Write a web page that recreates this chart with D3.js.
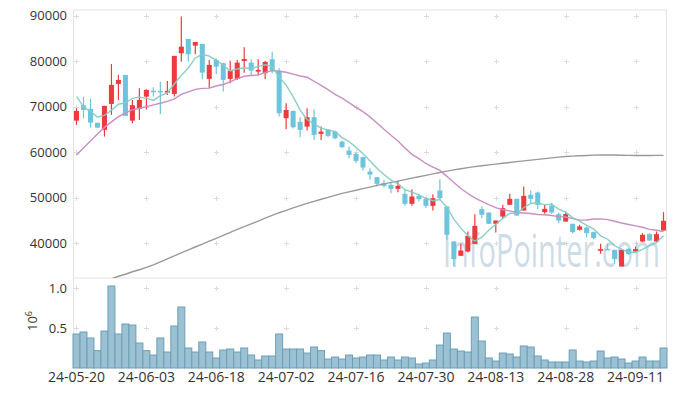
<!DOCTYPE html>
<html><head><meta charset="utf-8">
<script src="https://cdn.jsdelivr.net/npm/d3@7"></script>
<style>body{margin:0;background:#fff}svg{display:block;font-family:"Open Sans",sans-serif}</style>
</head><body><svg id="c" width="677" height="396"></svg>
<script>
const dates = ["24-05-20","24-05-21","24-05-22","24-05-23","24-05-24","24-05-27","24-05-28","24-05-29","24-05-30","24-05-31",
"24-06-03","24-06-04","24-06-05","24-06-07","24-06-10","24-06-11","24-06-12","24-06-13","24-06-14","24-06-17",
"24-06-18","24-06-19","24-06-20","24-06-21","24-06-24","24-06-25","24-06-26","24-06-27","24-06-28","24-07-01",
"24-07-02","24-07-03","24-07-04","24-07-05","24-07-08","24-07-09","24-07-10","24-07-11","24-07-12","24-07-15",
"24-07-16","24-07-17","24-07-18","24-07-19","24-07-22","24-07-23","24-07-24","24-07-25","24-07-26","24-07-29",
"24-07-30","24-07-31","24-08-01","24-08-02","24-08-05","24-08-06","24-08-07","24-08-08","24-08-09","24-08-12",
"24-08-13","24-08-14","24-08-16","24-08-19","24-08-20","24-08-21","24-08-22","24-08-23","24-08-26","24-08-27",
"24-08-28","24-08-29","24-08-30","24-09-02","24-09-03","24-09-04","24-09-05","24-09-06","24-09-09","24-09-10",
"24-09-11","24-09-12","24-09-13","24-09-19","24-09-20"];
const open = [66920,70300,69490,66420,64880,70590,74990,76970,66920,69490,
72200,73500,73450,73080,72790,81740,84880,83410,83780,76090,
80260,79540,76090,76090,80040,79670,77690,77340,80420,77910,
67450,69050,66640,65600,67670,64000,64880,64500,62300,60330,
59600,58880,55710,54480,53160,52790,51910,50810,48610,50370,
49640,48170,51530,48020,40330,37180,38130,39820,47450,46700,
44220,45820,48390,49710,47140,50590,51100,46790,48240,46350,
44720,44220,42900,43400,42390,38280,38700,38500,34830,38720,
38130,40330,41950,40330,42740];
const high = [69650,72200,71690,66500,70200,79380,76970,76970,71470,74040,
73820,74260,75490,75650,81200,89800,84900,84220,83800,80260,
80640,79670,80110,80260,83050,80420,80420,80040,82090,78440,
70750,69100,67670,69650,69430,65600,65000,64700,62500,61210,
59890,59010,56460,54500,53890,53290,53670,51840,51840,50810,
50080,50740,54040,48100,40400,39820,42520,46350,48020,46700,
44950,48390,50810,49750,52410,51530,51320,48390,48770,46700,
46920,44220,43990,43630,42520,39820,39820,38500,38500,38870,
39220,42170,42170,42520,46790];
const low = [65980,67450,65380,65300,63400,68180,71470,67900,66350,67080,
69430,72200,68390,72570,72200,79890,79890,81520,76020,74040,
77190,73300,75140,75870,77470,76970,76970,76020,77340,67800,
65030,65200,63270,64720,62680,62680,63300,62800,60900,58660,
57560,55870,53890,52410,52280,50960,51180,48170,48170,49120,
47670,47140,49640,40700,34830,37180,37910,39820,45470,44200,
42300,45470,48390,46000,47140,48770,47450,46410,46410,44370,
44720,42170,42740,41290,40850,37620,38480,35420,34830,37400,
38000,40190,40480,40190,42740];
const close = [69050,69270,66480,65380,70150,74770,75870,67960,70310,71470,
73670,73400,73160,73450,81140,83190,81520,84220,77470,79160,
78790,75870,77910,79670,80480,77910,78070,79820,77910,68550,
69270,65470,64880,67670,63780,64500,63560,63050,61080,59380,
58060,56590,55050,53010,52570,51910,52570,48610,50220,49640,
48170,49860,49860,41800,36460,38350,41580,43770,46200,44220,
44940,47670,49710,46040,50370,49710,48390,47510,46700,44940,
46350,42390,43630,42170,41070,38660,38600,36460,38500,37560,
38660,41800,40550,41950,44880];
const volume = [425000,450000,375000,217000,462000,1025000,425000,550000,537000,312000,
217000,162000,375000,200000,525000,762000,250000,200000,325000,200000,
125000,225000,237000,200000,250000,162000,100000,150000,150000,425000,
237000,237000,237000,187000,262000,217000,112000,137000,112000,162000,
125000,137000,162000,162000,100000,137000,100000,137000,125000,50000,
62000,100000,287000,437000,237000,212000,200000,637000,337000,125000,
87000,187000,175000,137000,275000,262000,150000,100000,75000,75000,
75000,225000,87000,75000,87000,212000,125000,137000,112000,62000,
87000,137000,87000,87000,250000];
const ma5 = [72200,70000,68900,67700,68070,69210,70530,70830,71810,72080,
71860,71360,72400,73030,74960,76870,78490,80700,81510,81110,
80230,79100,77840,78280,78540,78370,78810,79190,78840,76450,
74720,72200,69220,67170,66210,65260,64880,64510,63190,62310,
61030,59630,58030,56420,55060,53830,53020,51730,51180,50590,
49840,49300,49550,47870,45230,43270,41610,40390,41270,42820,
44140,45360,46550,46520,47750,48700,48840,48400,48540,47450,
46780,45580,44800,43900,43120,41580,40830,39390,38660,37960,
37960,38600,39410,40100,41570];
const ma20 = [59380,60920,62460,64000,65430,66640,67800,68610,69270,69650,
70000,70370,70750,71140,71690,72680,73230,73780,74000,74060,
74540,74870,75440,76160,76670,76830,76940,77530,77910,77770,
77550,77150,76740,76450,75580,74650,73750,72690,71870,70880,
69850,68880,67740,66410,65010,63710,62430,60870,59490,58540,
57490,56710,55960,54660,53300,51990,50890,49930,49180,48430,
47770,47320,47060,46710,46600,46490,46280,46220,46050,45810,
45720,45350,45040,45060,45290,45300,45150,44790,44400,44070,
43760,43460,43000,42800,42520];
const ma120 = [null,null,null,null,null,32130,32680,33120,33670,34110,
34650,35200,35860,36520,37180,37840,38500,39120,39750,40390,
41030,41690,42350,42990,43600,44220,44830,45450,46080,46660,
47180,47710,48220,48700,49160,49620,50040,50480,50900,51250,
51600,51950,52300,52660,52990,53320,53620,53950,54260,54570,
54880,55210,55510,55820,56090,56330,56570,56790,56990,57180,
57360,57540,57710,57890,58060,58220,58390,58570,58720,58880,
59010,59100,59180,59250,59320,59360,59360,59340,59290,59270,
59250,59250,59250,59270,59270];
const priceTicks = [40000,50000,60000,70000,80000,90000];
const volTicks = [500000,1000000];
const xTickIdx = [0,10,20,30,40,50,60,70,80];

const svg = d3.select("#c");
const L = 73, R = 667, PT = 10, PB = 278, VB = 368;
const x = d3.scaleBand().domain(dates).range([L, R]).padding(0);
const step = x.bandwidth();
const cx = i => x(dates[i]) + step / 2;
const y = d3.scaleLinear().domain([32300, 91250]).range([PB, PT]);
const yv = d3.scaleLinear().domain([0, 1125000]).range([VB, PB]);

svg.append("defs").append("clipPath").attr("id", "pc")
  .append("rect").attr("x", L).attr("y", PT).attr("width", R - L).attr("height", PB - PT);

// frame lines
const frame = svg.append("g").attr("stroke", "#e3e3e3").attr("stroke-width", 1);
[[L, PT, R, PT], [L, PB, R, PB], [L + 0.5, PT, L + 0.5, VB], [R - 0.5, PT, R - 0.5, VB], [L, VB - 0.5, R, VB - 0.5]]
  .forEach(s => frame.append("line").attr("x1", s[0]).attr("y1", s[1]).attr("x2", s[2]).attr("y2", s[3]));

// grid crosses
const cross = svg.append("g").attr("stroke", "#dcdcdc").attr("stroke-width", 1);
const crossYs = priceTicks.map(y).concat(volTicks.map(yv));
xTickIdx.forEach(i => crossYs.forEach(yy => {
  const xx = Math.round(cx(i)) + 0.5, y0 = Math.round(yy) + 0.5;
  cross.append("line").attr("x1", xx - 2.5).attr("x2", xx + 2.5).attr("y1", y0).attr("y2", y0);
  cross.append("line").attr("x1", xx).attr("x2", xx).attr("y1", y0 - 2.5).attr("y2", y0 + 2.5);
}));

// watermark (horizontally condensed via scale)
const wm = svg.append("text").attr("font-size", 46).attr("font-family", "Open Sans")
  .attr("fill", "#b9cddc").attr("fill-opacity", 0.7).text("InfoPointer.com");
const natural = wm.node().getComputedTextLength() || 340;
wm.attr("transform", `translate(443,267) scale(${217 / natural},1)`);

// axes
const ya = svg.append("g").attr("transform", `translate(${L},0)`)
  .call(d3.axisLeft(y).tickValues(priceTicks).tickSize(0).tickPadding(6).tickFormat(d3.format("d")));
ya.select(".domain").remove();
ya.selectAll("text").attr("font-size", 13).attr("fill", "#333").attr("font-family", "Open Sans");

const va = svg.append("g").attr("transform", `translate(${L},0)`)
  .call(d3.axisLeft(yv).tickValues(volTicks).tickSize(0).tickPadding(6).tickFormat(d => (d / 1e6).toFixed(1)));
va.select(".domain").remove();
va.selectAll("text").attr("font-size", 13).attr("fill", "#333").attr("font-family", "Open Sans");

const xa = svg.append("g").attr("transform", `translate(0,${VB})`)
  .call(d3.axisBottom(x).tickValues(xTickIdx.map(i => dates[i])).tickSize(0).tickPadding(4));
xa.select(".domain").remove();
xa.selectAll("text").attr("font-size", 14).attr("fill", "#333").attr("font-family", "Open Sans");

const ex = svg.append("text").attr("transform", "translate(37,321) rotate(-90)")
  .attr("text-anchor", "middle").attr("font-size", 13).attr("fill", "#333");
ex.append("tspan").text("10");
ex.append("tspan").attr("dy", -5).attr("font-size", 9).text("6");

// volume
svg.append("g").selectAll("rect").data(volume).join("rect")
  .attr("x", (d, i) => x(dates[i]))
  .attr("y", d => yv(d))
  .attr("width", step)
  .attr("height", d => VB - yv(d))
  .attr("fill", "#9bc1d3").attr("stroke", "#6a9fb8").attr("stroke-width", 1);

// candles
const up = "#ee3a3e", dn = "#6ec4dd";
const cg = svg.append("g").attr("clip-path", "url(#pc)");
const bw = step * 0.72;
dates.forEach((d, i) => {
  const col = close[i] >= open[i] ? up : dn;
  cg.append("line").attr("x1", cx(i)).attr("x2", cx(i))
    .attr("y1", y(high[i])).attr("y2", y(low[i])).attr("stroke", col).attr("stroke-width", 1.2);
  const top = y(Math.max(open[i], close[i])), bot = y(Math.min(open[i], close[i]));
  cg.append("rect").attr("x", cx(i) - bw / 2).attr("y", top)
    .attr("width", bw).attr("height", Math.max(1.5, bot - top)).attr("fill", col);
});

// moving averages
const lineGen = arr => d3.line().defined(d => d != null).x((d, i) => cx(i)).y(d => y(d))(arr);
const lg = svg.append("g").attr("clip-path", "url(#pc)").attr("fill", "none").attr("stroke-width", 1.4);
lg.append("path").attr("d", lineGen(ma120)).attr("stroke", "#999");
lg.append("path").attr("d", lineGen(ma20)).attr("stroke", "#c98fc4");
lg.append("path").attr("d", lineGen(ma5)).attr("stroke", "#84cbc3").attr("stroke-opacity", 0.95);
</script></body></html>
